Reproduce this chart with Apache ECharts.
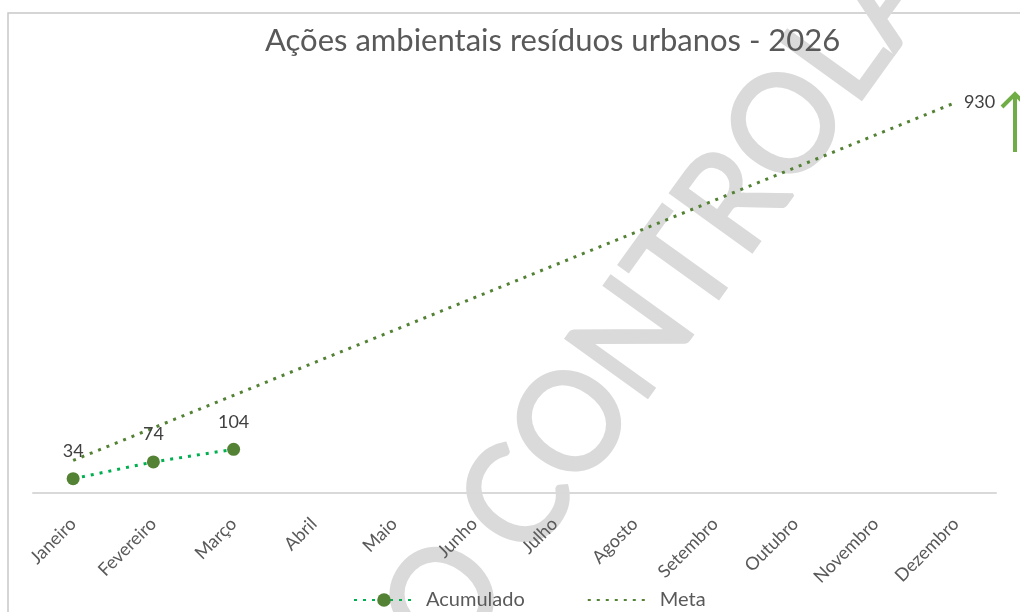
<!DOCTYPE html>
<html><head><meta charset="utf-8">
<script src="https://cdn.jsdelivr.net/npm/echarts@6/dist/echarts.min.js"></script>
<style>html,body{margin:0;padding:0;background:#fff}#c{width:1020px;height:612px}</style>
</head><body><div id="c"></div>
<script>
var categories = ['Janeiro','Fevereiro','Março','Abril','Maio','Junho','Julho','Agosto','Setembro','Outubro','Novembro','Dezembro'];
var acumulado = [34, 74, 104];
var meta = [77.5, 155, 232.5, 310, 387.5, 465, 542.5, 620, 697.5, 775, 852.5, 930];
var titleText = 'Ações ambientais resíduos urbanos - 2026';
var watermarkA = 'CÓPIA NÃO';
var watermarkB = 'CONTROLADA';

var FONT = 'Lato';
var chart = echarts.init(document.getElementById('c'), null, {renderer: 'canvas'});
var deg = Math.PI / 180;
var ang = 54.3 * deg;
var WM = {fontFamily: FONT, fontSize: 140, fill: '#dadada', stroke: '#dadada', lineWidth: 3, textVerticalAlign: 'middle'};
chart.setOption({
  animation: false,
  backgroundColor: '#fff',
  title: {text: titleText, left: 260, top: 20, textStyle: {fontFamily: FONT, fontSize: 31, fontWeight: 'normal', color: '#595959'}},
  grid: {left: 33, right: 24, top: 73, bottom: 119},
  graphic: [
    {type: 'rect', z: 0, shape: {x: 8, y: 13, width: 1100, height: 700}, style: {fill: 'none', stroke: '#c8c8c8', lineWidth: 1.5}},
    {type: 'text', z: 0, x: 491.5, y: 537, rotation: ang, scaleX: 0.945, style: Object.assign({text: watermarkB, textAlign: 'left'}, WM)},
    {type: 'text', z: 0, x: 476.6, y: 557.5, rotation: ang, scaleX: 0.945, style: Object.assign({text: watermarkA, textAlign: 'right'}, WM)},
    {type: 'polyline', z: 10, shape: {points: [[1015, 152], [1015, 94]]}, style: {stroke: '#70AD47', lineWidth: 4, fill: 'none'}},
    {type: 'polyline', z: 10, shape: {points: [[1002, 107], [1015, 94], [1028, 107]]}, style: {stroke: '#70AD47', lineWidth: 4, fill: 'none', lineJoin: 'miter'}}
  ],
  legend: {
    left: 348, top: 585, itemWidth: 60, itemHeight: 17, itemGap: 62,
    textStyle: {fontFamily: FONT, fontSize: 20, color: '#595959', padding: [0, 0, 0, 7]},
    data: ['Acumulado', {name: 'Meta', itemStyle: {opacity: 0}}]
  },
  xAxis: {
    type: 'category', data: categories, boundaryGap: true,
    axisLine: {lineStyle: {color: '#d9d9d9', width: 2}},
    axisTick: {show: false},
    axisLabel: {rotate: 45, margin: 28, interval: 0, fontFamily: FONT, fontSize: 18, color: '#595959'}
  },
  yAxis: {type: 'value', min: 0, max: 1000, show: false, splitLine: {show: false}},
  series: [
    {
      name: 'Meta', type: 'line', data: meta, z: 3,
      symbol: 'none',
      lineStyle: {color: '#548235', width: 3, type: [3, 6]},
      itemStyle: {color: '#548235'},
      endLabel: {show: true, formatter: '{c}', distance: 8, fontFamily: FONT, fontSize: 18, color: '#404040'}
    },
    {
      name: 'Acumulado', type: 'line', data: acumulado, z: 4,
      symbol: 'circle', symbolSize: 13,
      lineStyle: {color: '#00B050', width: 3, type: [3, 6]},
      itemStyle: {color: '#548235'},
      label: {show: true, position: 'top', distance: 12, fontFamily: FONT, fontSize: 18, color: '#404040'}
    }
  ]
});
</script></body></html>
